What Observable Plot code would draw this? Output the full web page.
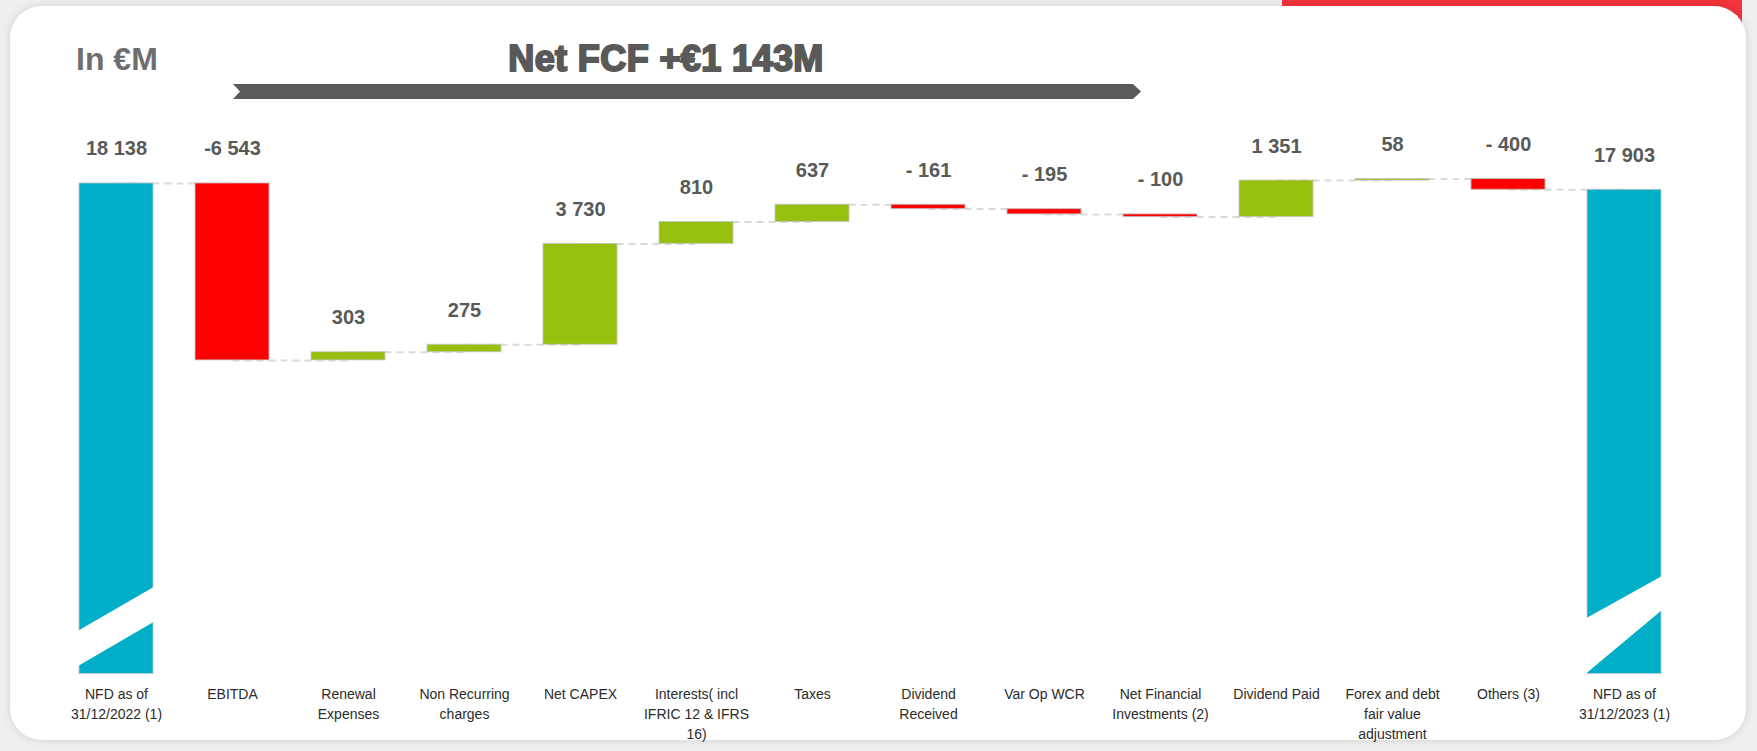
<!DOCTYPE html>
<html>
<head>
<meta charset="utf-8">
<script src="https://cdn.jsdelivr.net/npm/d3@7"></script>
<script src="https://cdn.jsdelivr.net/npm/@observablehq/plot@0.6"></script>
<style>
  html, body { margin: 0; padding: 0; }
  body { width: 1757px; height: 751px; background: #efefef; position: relative; overflow: hidden; font-family: "Liberation Sans", Arial, sans-serif; }
  #tab { position: absolute; left: 1282px; top: 0; width: 460px; height: 60px; background: #f4333a; }
  #card { position: absolute; left: 10px; top: 6px; width: 1736px; height: 734px; background: #fff; border-radius: 32px; box-shadow: 0 0 10px rgba(0,0,0,0.13); }
  #unit { position: absolute; left: 76px; top: 43px; font: bold 32px/1 "Liberation Sans", Arial, sans-serif; color: #6e6e6e; }
  #title { position: absolute; left: 666px; top: 41px; transform: translateX(-50%); white-space: nowrap; font: bold 36px/1 "Liberation Sans", Arial, sans-serif; letter-spacing: 0.4px; color: #595959; -webkit-text-stroke: 2px #595959; }
  #arrow { position: absolute; left: 233px; top: 84px; width: 908px; height: 15px; background: #595959;
    clip-path: polygon(0 0, calc(100% - 8px) 0, 100% 50%, calc(100% - 8px) 100%, 0 100%, 7px 50%); }
  #chart { position: absolute; left: 0; top: 0; }
</style>
</head>
<body>
<div id="tab"></div>
<div id="card"></div>
<div id="unit">In €M</div>
<div id="title">Net FCF +€1 143M</div>
<div id="arrow"></div>
<div id="chart"></div>
<script>
const categories = [
  "NFD as of\n31/12/2022 (1)", "EBITDA", "Renewal\nExpenses", "Non Recurring\ncharges", "Net CAPEX",
  "Interests( incl\nIFRIC 12 & IFRS\n16)", "Taxes", "Dividend\nReceived", "Var Op WCR",
  "Net Financial\nInvestments (2)", "Dividend Paid", "Forex and debt\nfair value\nadjustment",
  "Others (3)", "NFD as of\n31/12/2023 (1)"
];
const values = [18138, -6543, 303, 275, 3730, 810, 637, -161, -195, -100, 1351, 58, -400, 17903];
const kinds = ["total", "dec", "inc", "inc", "inc", "inc", "inc", "dec", "dec", "dec", "inc", "inc", "dec", "total"];
const valueLabels = ["18 138", "-6 543", "303", "275", "3 730", "810", "637", "- 161", "- 195", "- 100", "1 351", "58", "- 400", "17 903"];
// axis-break stripe on the two total bars: [left-top, right-top, right-bottom, left-bottom] in €M
const breakStart = [1583, 3210, 1915, 277];
const breakEnd = [2041, 3605, 2348, 0];

let cum = 0;
const rows = categories.map((c, i) => {
  let y1, y2;
  if (kinds[i] === "total") { y1 = 0; y2 = values[i]; }
  else { y1 = cum; y2 = cum + values[i]; }
  cum = y2;
  return {cat: c, y1, y2, kind: kinds[i], label: valueLabels[i], top: Math.max(y1, y2), end: y2};
});
const links = rows.slice(0, -1).map((r, i) => ({a: r.cat, b: rows[i + 1].cat, y: r.end}));

const chart = Plot.plot({
  width: 1757,
  height: 751,
  marginLeft: 34.7,
  marginRight: 52.3,
  marginTop: 132.6,
  marginBottom: 77.5,
  style: {background: "transparent", fontFamily: "'Liberation Sans', Arial, sans-serif", overflow: "visible"},
  x: {domain: categories, padding: 0.36, axis: null},
  y: {domain: [0, 20000], axis: null},
  color: {domain: ["total", "inc", "dec"], range: ["#00afc7", "#97bf0d", "#ff0000"]},
  marks: [
    Plot.link(links, {x1: "a", x2: "b", y1: "y", y2: "y", stroke: "#d9d9d9", strokeWidth: 2, strokeDasharray: "7,5"}),
    Plot.barY(rows, {x: "cat", y1: "y1", y2: "y2", fill: "kind", stroke: "#c4c4c4", strokeWidth: 1, strokeOpacity: 0.8}),
    Plot.text(rows, {x: "cat", y: "top", text: "label", dy: -28, lineAnchor: "bottom", fontSize: 20, fontWeight: "bold", fill: "#595959"}),
    Plot.text(rows, {x: "cat", frameAnchor: "bottom", text: "cat", dy: 10.3, lineAnchor: "top", lineHeight: 1.43, fontSize: 14, fill: "#2b2b2b"})
  ]
});
document.getElementById("chart").appendChild(chart);

// draw the white break stripes with the chart's own scales
const xs = chart.scale("x"), ys = chart.scale("y");
function stripe(cat, v) {
  const x0 = xs.apply(cat) - 1, x1 = xs.apply(cat) + xs.bandwidth + 1;
  const pts = [[x0, ys.apply(v[0])], [x1, ys.apply(v[1])], [x1, ys.apply(v[2])], [x0, ys.apply(v[3])]];
  d3.select(chart).append("polygon").attr("points", pts.map(p => p.join(",")).join(" ")).attr("fill", "#fff");
}
stripe(categories[0], breakStart);
stripe(categories[categories.length - 1], breakEnd);
</script>
</body>
</html>
